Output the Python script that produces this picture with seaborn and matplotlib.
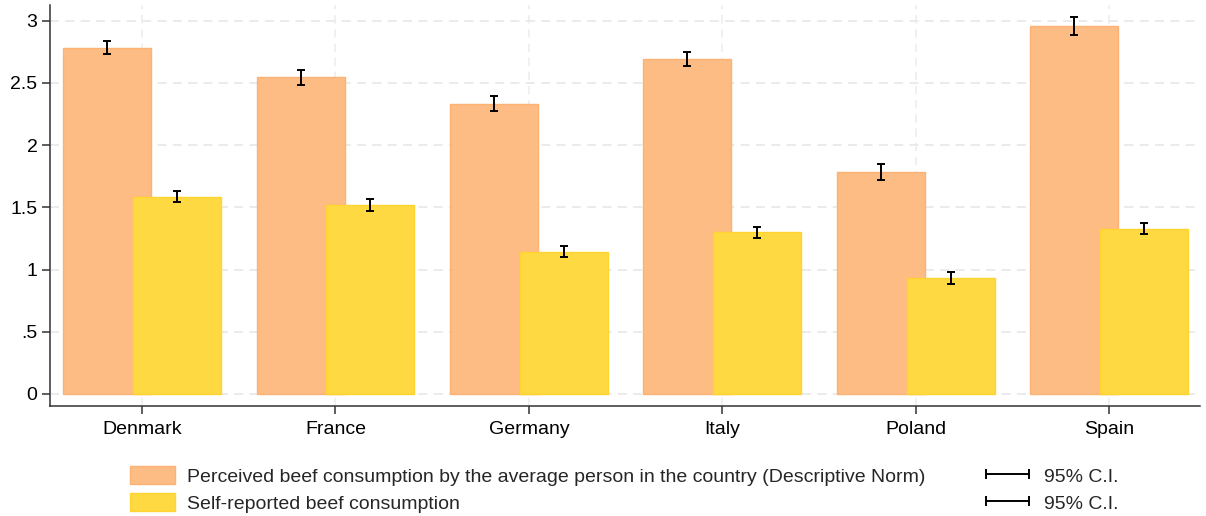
import numpy as np
import pandas as pd
import matplotlib
matplotlib.use("Agg")
import matplotlib.pyplot as plt
import matplotlib.transforms as mtransforms
from matplotlib.patches import Patch
from matplotlib.lines import Line2D
import seaborn as sns

countries = ["Denmark", "France", "Germany", "Italy", "Poland", "Spain"]
perceived = [2.785, 2.545, 2.334, 2.695, 1.787, 2.958]
perceived_ci = [0.053, 0.060, 0.063, 0.057, 0.063, 0.072]
selfrep = [1.586, 1.519, 1.144, 1.299, 0.932, 1.329]
selfrep_ci = [0.043, 0.051, 0.044, 0.044, 0.047, 0.043]
ytick_vals = [0, 0.5, 1, 1.5, 2, 2.5, 3]
ytick_labels = ["0", ".5", "1", "1.5", "2", "2.5", "3"]
label_perc = "Perceived beef consumption by the average person in the country (Descriptive Norm)"
label_self = "Self-reported beef consumption"
ci_label = "95% C.I."

ORANGE = "#FDBC84"
ORANGE_EDGE = "#FCB274"
YELLOW = "#FFD942"
YELLOW_EDGE = "#FFD330"

sns.set_theme(style="white")
plt.rcParams["font.family"] = ["Liberation Sans", "DejaVu Sans"]
FS = 14

df_p = pd.DataFrame({"country": countries, "value": perceived})
df_s = pd.DataFrame({"country": countries, "value": selfrep})

fig = plt.figure(figsize=(12.06, 5.16), dpi=100)
ax = fig.add_axes([50 / 1206, 1 - 406 / 516, 1150 / 1206, 401 / 516])

offset = 0.18
width = 0.455
left_tr = mtransforms.Affine2D().translate(-offset, 0) + ax.transData
right_tr = mtransforms.Affine2D().translate(offset, 0) + ax.transData

n_before = len(ax.patches)
sns.barplot(data=df_p, x="country", y="value", order=countries, color=ORANGE,
            width=width, saturation=1, errorbar=None, ax=ax,
            edgecolor=ORANGE_EDGE, linewidth=1)
for p in ax.patches[n_before:]:
    p.set_transform(left_tr)

n_before = len(ax.patches)
sns.barplot(data=df_s, x="country", y="value", order=countries, color=YELLOW,
            width=width, saturation=1, errorbar=None, ax=ax,
            edgecolor=YELLOW_EDGE, linewidth=1)
for p in ax.patches[n_before:]:
    p.set_transform(right_tr)
    p.set_zorder(2.5)

idx = np.arange(len(countries))
ax.errorbar(idx, perceived, yerr=perceived_ci, fmt="none", ecolor="black",
            elinewidth=1.4, capsize=3, capthick=1.4, transform=left_tr, zorder=4)
ax.errorbar(idx, selfrep, yerr=selfrep_ci, fmt="none", ecolor="black",
            elinewidth=1.4, capsize=3, capthick=1.4, transform=right_tr, zorder=4)

ax.set_axisbelow(True)
ax.grid(True, axis="y", color="#e9e9e9", linestyle=(0, (5, 3.5)), linewidth=1.3)
ax.grid(True, axis="x", color="#eeeeee", linestyle=(0, (5, 3.5)), linewidth=1.2)

ax.set_xlim(-0.476, 5.47)
ax.set_ylim(-0.0965, 3.127)
ax.set_yticks(ytick_vals)
ax.set_yticklabels(ytick_labels)
ax.set_xlabel("")
ax.set_ylabel("")

for s in ["top", "right"]:
    ax.spines[s].set_visible(False)
for s in ["left", "bottom"]:
    ax.spines[s].set_color("#333333")
    ax.spines[s].set_linewidth(1.1)

ax.tick_params(axis="y", which="both", left=True, length=6, width=1.1,
               color="#333333", pad=3, labelsize=FS, labelcolor="black")
ax.tick_params(axis="x", which="both", bottom=True, length=6, width=1.1,
               color="#333333", pad=5, labelsize=FS, labelcolor="black")

# legends
h1 = [Patch(facecolor=ORANGE, edgecolor=ORANGE_EDGE),
      Patch(facecolor=YELLOW, edgecolor=YELLOW_EDGE)]
fig.legend(h1, [label_perc, label_self], loc="upper left",
           bbox_to_anchor=(130 / 1206, 1 - 466 / 516), frameon=False,
           fontsize=FS, handlelength=2.3, handleheight=1.05,
           handletextpad=0.62, labelspacing=0.38, borderpad=0,
           borderaxespad=0)

h2 = [Line2D([], [], color="black", lw=1.4, marker="|", markersize=7, mew=1.4),
      Line2D([], [], color="black", lw=1.4, marker="|", markersize=7, mew=1.4)]
fig.legend(h2, [ci_label, ci_label], loc="upper left",
           bbox_to_anchor=(980 / 1206, 1 - 466 / 516), frameon=False,
           fontsize=FS, handlelength=2.8, handleheight=1.05, numpoints=2,
           handletextpad=0.5, labelspacing=0.38, borderpad=0,
           borderaxespad=0)

fig.savefig("out.png", dpi=100)
